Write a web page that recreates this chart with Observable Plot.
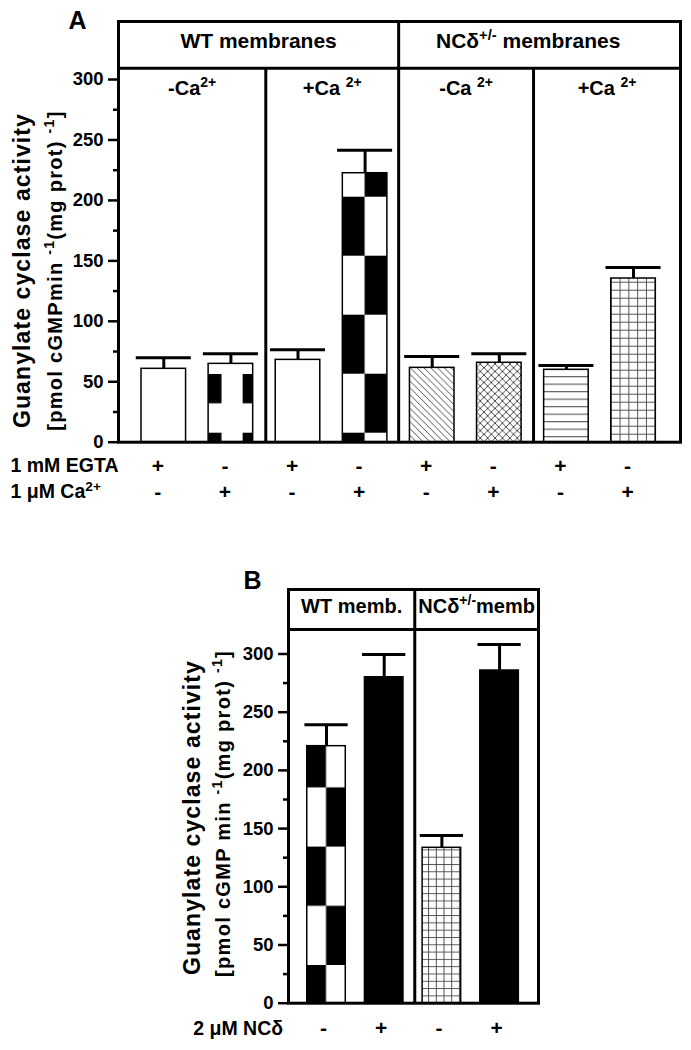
<!DOCTYPE html>
<html><head><meta charset="utf-8">
<script src="https://cdn.jsdelivr.net/npm/d3@7"></script>
<script src="https://cdn.jsdelivr.net/npm/@observablehq/plot@0.6"></script>
<style>
html,body{margin:0;padding:0;background:#fff;}
#chart{width:691px;height:1050px;}
#chart svg{display:block;}
</style></head><body><div id="chart"></div>
<script>
// ---------- data (panel A) ----------
const groupsA = ["WT membranes", "NCδ^{+/-} membranes"];
const subgroupsA = ["-Ca^{2+}", "+Ca ^{2+}", "-Ca ^{2+}", "+Ca ^{2+}"];
const activityA = [60.7, 64.8, 68.1, 222.5, 61.5, 65.7, 59.9, 135.4];
const semA = [9.1, 8.3, 8.3, 19.0, 9.4, 7.4, 3.5, 9.1];
const egtaA = ["+", "-", "+", "-", "+", "-", "+", "-"];
const caA = ["-", "+", "-", "+", "-", "+", "-", "+"];
const rowLabelEgta = "1 mM EGTA";
const rowLabelCa = "1 μM Ca^{2+}";
// ---------- data (panel B) ----------
const groupsB = ["WT memb.", "NCδ^{+/-}memb"];
const activityB = [220.8, 280.0, 133.5, 285.8];
const semB = [18.4, 19.6, 10.5, 22.4];
const ncdB = ["-", "+", "-", "+"];
const rowLabelNcd = "2 μM NCδ";
// ---------- shared ----------
const majorTicks = [0, 50, 100, 150, 200, 250, 300];
const minorTicks = [25, 75, 125, 175, 225, 275];
const yTitle1 = "Guanylate cyclase activity";
const yTitle2A = "[pmol cGMPmin ^{-1}(mg prot) ^{-1}]";
const yTitle2B = "[pmol cGMP min ^{-1}(mg prot) ^{-1}]";
// fill styles (not data)
const fillsA = ["plain", "sparse", "plain", "checkerA", "diagonal", "crosshatch", "horizontal", "gridA"];
const fillsB = ["checkerB", "black", "gridB", "black"];

const FONT = "'Liberation Sans', Arial, Helvetica, sans-serif";
const ns = "http://www.w3.org/2000/svg";
function el(tag, attrs, parent) {
  const e = document.createElementNS(ns, tag);
  for (const k in attrs) e.setAttribute(k, attrs[k]);
  if (parent) parent.appendChild(e);
  return e;
}
function pat(defs, id, x, y, w, h) {
  const p = el("pattern", {id, patternUnits: "userSpaceOnUse", x, y, width: w, height: h}, defs);
  el("rect", {x: 0, y: 0, width: w, height: h, fill: "white"}, p);
  return p;
}
const builders = {
  plain: (d, id) => pat(d, id, 0, 0, 10, 10),
  black: (d, id) => { const p = pat(d, id, 0, 0, 10, 10); el("rect", {width: 10, height: 10, fill: "black"}, p); },
  sparse: (d, id, x, b, w) => { const p = pat(d, id, x - 0.225 * w, b - 9, w, 58.7); el("rect", {width: 0.525 * w, height: 29.3, fill: "black"}, p); },
  checkerA: (d, id, x, b, w) => { const p = pat(d, id, x, b - 9, w, 118); el("rect", {x: 0, y: 0, width: w / 2, height: 59, fill: "black"}, p); el("rect", {x: w / 2, y: 59, width: w / 2, height: 59, fill: "black"}, p); },
  checkerB: (d, id, x, b, w) => { const p = pat(d, id, x, b - 37.7, w, 118.4); el("rect", {x: 0, y: 0, width: w / 2, height: 59.2, fill: "black"}, p); el("rect", {x: w / 2, y: 59.2, width: w / 2, height: 59.2, fill: "black"}, p); },
  diagonal: (d, id, x, b) => { const s = 6.8; const p = pat(d, id, x, b, s, s); el("path", {d: `M-1,-1L${s + 1},${s + 1}M-1,${s - 1}L1,${s + 1}M${s - 1},-1L${s + 1},1`, stroke: "#222", "stroke-width": 0.8, fill: "none"}, p); },
  crosshatch: (d, id, x, b) => { const s = 7.4; const p = pat(d, id, x, b, s, s); el("path", {d: `M-1,-1L${s + 1},${s + 1}M-1,${s - 1}L1,${s + 1}M${s - 1},-1L${s + 1},1M-1,${s + 1}L${s + 1},-1M-1,1L1,-1M${s - 1},${s + 1}L${s + 1},${s - 1}`, stroke: "#222", "stroke-width": 0.8, fill: "none"}, p); },
  horizontal: (d, id, x, b) => { const p = pat(d, id, x, b, 10, 7.5); el("path", {d: "M0,2.5H10", stroke: "#555", "stroke-width": 1.1, fill: "none"}, p); },
  gridA: (d, id, x, b) => { const p = pat(d, id, x, b, 8.8, 8); el("path", {d: "M0.5,0V8M0,0.5H8.8", stroke: "#444", "stroke-width": 0.9, fill: "none"}, p); },
  gridB: (d, id, x, b) => { const p = pat(d, id, x - 1.7, b, 7.7, 7.3); el("path", {d: "M0.5,0V7.3M0,0.5H7.7", stroke: "#444", "stroke-width": 0.9, fill: "none"}, p); }
};
function addPatterns(svg, styles, prefix) {
  const defs = el("defs", {});
  svg.insertBefore(defs, svg.firstChild);
  svg.querySelectorAll("rect").forEach(r => {
    const f = r.getAttribute("fill");
    if (!f || !f.startsWith("url(#" + prefix)) return;
    const id = f.slice(5, -1);
    const i = +id.slice(prefix.length);
    const x = +r.getAttribute("x"), y = +r.getAttribute("y"), w = +r.getAttribute("width"), h = +r.getAttribute("height");
    builders[styles[i]](defs, id, x, y + h, w, h);
  });
}
function applySup(root) {
  root.querySelectorAll("text").forEach(t => {
    const tsp = t.querySelectorAll("tspan");
    const targets = tsp.length ? [...tsp] : [t];
    targets.forEach(node => {
      const s = node.textContent;
      if (!s.includes("^{")) return;
      node.textContent = "";
      const re = /\^\{([^}]*)\}/g; let last = 0, m;
      while ((m = re.exec(s))) {
        if (m.index > last) node.appendChild(document.createTextNode(s.slice(last, m.index)));
        const sp = el("tspan", {"baseline-shift": "super", style: "font-size:0.7em"});
        sp.textContent = m[1];
        node.appendChild(sp);
        last = re.lastIndex;
      }
      if (last < s.length) node.appendChild(document.createTextNode(s.slice(last)));
    });
  });
}
function letterSpace(root) {
  root.querySelectorAll("text").forEach(t => {
    const s = t.textContent;
    if (s.startsWith("Guanylate")) t.setAttribute("letter-spacing", "1.1");
    else if (s.startsWith("[pmol")) t.setAttribute("letter-spacing", "1.3");
  });
}

// ---------------- Panel A ----------------
const xminA = -0.675, xmaxA = 7.70, topA = 348, sepA = 309.3;
const divA = [1.52, 3.5, 5.51];
const hwA = 0.332, capA = 0.41;
const dataA = activityA.map((v, i) => ({i, v, top: v + semA[i], fill: `url(#pa${i})`, egta: egtaA[i], ca: caA[i]}));
const groupCentersA = [(xminA + divA[1]) / 2, (divA[1] + xmaxA) / 2 - 0.17];
const subBoundsA = [xminA, ...divA, xmaxA];
const subCentersA = subgroupsA.map((d, i) => (subBoundsA[i] + subBoundsA[i + 1]) / 2);

const plotA = Plot.plot({
  width: 691, height: 520,
  marginLeft: 118, marginRight: 11, marginTop: 21, marginBottom: 78.3,
  x: {domain: [xminA, xmaxA], axis: null},
  y: {domain: [0, topA], axis: null},
  color: {type: "identity"},
  style: {fontFamily: FONT, fontWeight: "bold", color: "black", background: "white", overflow: "visible"},
  marks: [
    Plot.rect(dataA, {x1: d => d.i - hwA, x2: d => d.i + hwA, y1: 0, y2: "v", fill: "fill", stroke: "black", strokeWidth: 1.5}),
    Plot.ruleX(dataA, {x: "i", y1: "v", y2: "top", stroke: "black", strokeWidth: 3}),
    Plot.ruleY(dataA, {y: "top", x1: d => d.i - capA, x2: d => d.i + capA, stroke: "black", strokeWidth: 3}),
    Plot.ruleY([sepA], {stroke: "black", strokeWidth: 3}),
    Plot.ruleX([divA[1]], {stroke: "black", strokeWidth: 3}),
    Plot.ruleX([divA[0], divA[2]], {y1: 0, y2: sepA, stroke: "black", strokeWidth: 3}),
    Plot.frame({stroke: "black", strokeWidth: 3}),
    Plot.axisY({ticks: majorTicks, tickSize: 10, tickPadding: 5, fontSize: 18.5, fontWeight: "bold", strokeWidth: 2.5, label: null}),
    Plot.axisY({ticks: minorTicks, tickSize: 5, strokeWidth: 2.5, fill: "none", label: null}),
    Plot.text(groupsA, {x: (d, i) => groupCentersA[i], frameAnchor: "top", dy: 26.3, lineAnchor: "bottom", fontSize: 21, fontWeight: "bold"}),
    Plot.text(subgroupsA, {x: (d, i) => subCentersA[i], frameAnchor: "top", dy: 73, lineAnchor: "bottom", fontSize: 20, fontWeight: "bold"}),
    Plot.text(dataA, {x: "i", text: "egta", frameAnchor: "bottom", dy: 24, dx: -6, fontSize: 21, fontWeight: "bold", lineAnchor: "middle"}),
    Plot.text(dataA, {x: "i", text: "ca", frameAnchor: "bottom", dy: 50, dx: -6, fontSize: 21, fontWeight: "bold", lineAnchor: "middle"}),
    Plot.text([rowLabelEgta], {frameAnchor: "bottom-left", dx: -108, dy: 24, fontSize: 19.5, fontWeight: "bold", textAnchor: "start", lineAnchor: "middle"}),
    Plot.text([rowLabelCa], {frameAnchor: "bottom-left", dx: -108, dy: 50, fontSize: 19.5, fontWeight: "bold", textAnchor: "start", lineAnchor: "middle"}),
    Plot.text([yTitle1], {frameAnchor: "left", y: 142, rotate: -90, dx: -96.3, fontSize: 23, fontWeight: "bold", textAnchor: "middle", lineAnchor: "middle"}),
    Plot.text([yTitle2A], {frameAnchor: "left", y: 142, rotate: -90, dx: -63, fontSize: 20, fontWeight: "bold", textAnchor: "middle", lineAnchor: "middle"}),
    Plot.text(["A"], {frameAnchor: "top-left", dx: -50, dy: 7, textAnchor: "start", lineAnchor: "bottom", fontSize: 25, fontWeight: "bold"})
  ]
});

// ---------------- Panel B ----------------
const xminB = -0.659, xmaxB = 3.675, topB = 355.4, sepB = 321;
const divB = 1.53;
const hwB = 0.334, capB = 0.375;
const dataB = activityB.map((v, i) => ({i, v, top: v + semB[i], fill: `url(#pb${i})`, ncd: ncdB[i]}));
const groupCentersB = [(xminB + divB) / 2, (divB + xmaxB) / 2];

const plotB = Plot.plot({
  width: 691, height: 530,
  marginLeft: 288, marginRight: 153, marginTop: 69, marginBottom: 47.3,
  x: {domain: [xminB, xmaxB], axis: null},
  y: {domain: [0, topB], axis: null},
  color: {type: "identity"},
  style: {fontFamily: FONT, fontWeight: "bold", color: "black", background: "white", overflow: "visible"},
  marks: [
    Plot.rect(dataB, {x1: d => d.i - hwB, x2: d => d.i + hwB, y1: 0, y2: "v", fill: "fill", stroke: "black", strokeWidth: 1.5}),
    Plot.ruleX(dataB, {x: "i", y1: "v", y2: "top", stroke: "black", strokeWidth: 3}),
    Plot.ruleY(dataB, {y: "top", x1: d => d.i - capB, x2: d => d.i + capB, stroke: "black", strokeWidth: 3}),
    Plot.ruleY([sepB], {stroke: "black", strokeWidth: 3}),
    Plot.ruleX([divB], {stroke: "black", strokeWidth: 3}),
    Plot.frame({stroke: "black", strokeWidth: 3}),
    Plot.axisY({ticks: majorTicks, tickSize: 10, tickPadding: 5, fontSize: 18.5, fontWeight: "bold", strokeWidth: 2.5, label: null}),
    Plot.axisY({ticks: minorTicks, tickSize: 5, strokeWidth: 2.5, fill: "none", label: null}),
    Plot.text(groupsB, {x: (d, i) => groupCentersB[i], frameAnchor: "top", dy: 23.3, lineAnchor: "bottom", fontSize: 20, fontWeight: "bold"}),
    Plot.text(dataB, {x: "i", text: "ncd", frameAnchor: "bottom", dy: 25.5, dx: -3, fontSize: 21, fontWeight: "bold", lineAnchor: "middle"}),
    Plot.text([rowLabelNcd], {frameAnchor: "bottom-left", dx: -95.3, dy: 25.5, fontSize: 19.5, fontWeight: "bold", textAnchor: "start", lineAnchor: "middle"}),
    Plot.text([yTitle1], {frameAnchor: "left", y: 159.5, rotate: -90, dx: -96.3, fontSize: 23, fontWeight: "bold", textAnchor: "middle", lineAnchor: "middle"}),
    Plot.text([yTitle2B], {frameAnchor: "left", y: 163, rotate: -90, dx: -64.7, fontSize: 20, fontWeight: "bold", textAnchor: "middle", lineAnchor: "middle"}),
    Plot.text(["B"], {frameAnchor: "top-left", dx: -45, dy: -1, textAnchor: "start", lineAnchor: "bottom", fontSize: 25, fontWeight: "bold"})
  ]
});

const chart = document.getElementById("chart");
chart.appendChild(plotA);
chart.appendChild(plotB);
addPatterns(plotA, fillsA, "pa");
addPatterns(plotB, fillsB, "pb");
applySup(chart);
letterSpace(chart);
</script>
</body></html>
